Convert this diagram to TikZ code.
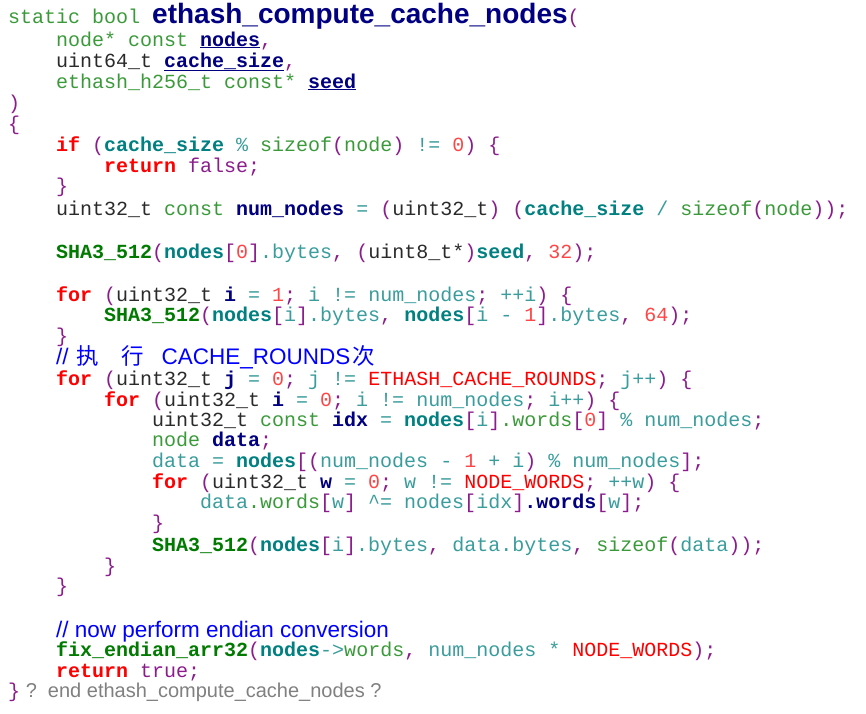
\documentclass[tikz,border=0pt]{standalone}
\usepackage{fontspec}
\setmonofont{Liberation Mono}
\setsansfont{Liberation Sans}
\newfontfamily\cjk{Noto Sans CJK SC}
\definecolor{cgreen}{HTML}{3A9A3A}
\definecolor{cfun}{HTML}{007A00}
\definecolor{cnavy}{HTML}{000080}
\definecolor{cpur}{HTML}{8B1C8B}
\definecolor{cred}{HTML}{FF0000}
\definecolor{cnum}{HTML}{FF4545}
\definecolor{cteal}{HTML}{008080}
\definecolor{clt}{HTML}{3A9C9C}
\definecolor{cdark}{HTML}{2A2A2A}
\definecolor{cblue}{HTML}{0000FF}
\definecolor{cgray}{HTML}{808080}
\newcommand\cG[1]{\textcolor{cgreen}{#1}}
\newcommand\cF[1]{\textcolor{cfun}{\bfseries #1}}
\newcommand\cP[1]{\textcolor{cpur}{#1}}
\newcommand\cR[1]{\textcolor{cred}{\bfseries #1}}
\newcommand\cRn[1]{\textcolor{cred}{#1}}
\newcommand\cN[1]{\textcolor{cnum}{#1}}
\newcommand\cT[1]{\textcolor{cteal}{\bfseries #1}}
\newcommand\cL[1]{\textcolor{clt}{#1}}
\newcommand\cD[1]{\textcolor{cdark}{#1}}
\newcommand\cV[1]{\textcolor{cnavy}{\bfseries #1}}
\newcommand\cU[1]{\textcolor{cnavy}{\bfseries\underline{#1}}}
\begin{document}
\begin{tikzpicture}[x=1pt,y=1pt,
  ln/.style={anchor=base west,inner sep=0pt,font=\ttfamily\fontsize{20}{20}\selectfont},
  cmtext/.style={anchor=base west,inner sep=0pt,font=\sffamily\fontsize{22.5}{22}\selectfont,text=cblue}]
\useasboundingbox (0,0) rectangle (866,-713);
\newcommand\Ln[4]{\node[ln] (#1) at (8+12*#2,-#3) {#4};}
\node[ln] (l1) at (8,-23) {\cG{static bool} \textcolor{cnavy}{\sffamily\bfseries\fontsize{28}{28}\selectfont ethash\_compute\_cache\_nodes}\cP{(}};
\Ln{l2}{4}{46}{\cG{node* const} \cU{nodes}\cP{,}}
\Ln{l3}{4}{67}{\cD{uint64\_t} \cU{cache\_size}\cP{,}}
\Ln{l4}{4}{88}{\cG{ethash\_h256\_t const*} \cU{seed}}
\Ln{l5}{0}{109}{\cP{)}}
\Ln{l6}{0}{130}{\cP{\{}}
\Ln{l7}{4}{151}{\cR{if} \cP{(}\cT{cache\_size} \cL{\%} \cG{sizeof}\cP{(}\cG{node}\cP{)} \cL{!=} \cN{0}\cP{)} \cP{\{}}
\Ln{l8}{8}{172}{\cR{return} \cP{false;}}
\Ln{l9}{4}{192}{\cP{\}}}
\Ln{l10}{4}{215}{\cD{uint32\_t} \cG{const} \cV{num\_nodes} \cL{=} \cP{(}\cD{uint32\_t}\cP{)} \cP{(}\cT{cache\_size} \cL{/} \cG{sizeof}\cP{(}\cG{node}\cP{));}}
\Ln{l11}{4}{258}{\cF{SHA3\_512}\cP{(}\cT{nodes}\cP{[}\cN{0}\cP{]}\cL{.bytes}\cP{,} \cP{(}\cD{uint8\_t*}\cP{)}\cT{seed}\cP{,} \cN{32}\cP{);}}
\Ln{l12}{4}{301}{\cR{for} \cP{(}\cD{uint32\_t} \cV{i} \cL{=} \cN{1}\cP{;} \cL{i} \cL{!=} \cL{num\_nodes}\cP{;} \cL{++i}\cP{)} \cP{\{}}
\Ln{l13}{8}{321}{\cF{SHA3\_512}\cP{(}\cT{nodes}\cP{[}\cL{i}\cP{]}\cL{.bytes}\cP{,} \cT{nodes}\cP{[}\cL{i} \cL{-} \cN{1}\cP{]}\cL{.bytes}\cP{,} \cN{64}\cP{);}}
\Ln{l14}{4}{342}{\cP{\}}}
\node[cmtext] (c1) at (56,-364) {//\hspace{8pt}{\cjk 执}\hspace{22pt}{\cjk 行}\hspace{18pt}CACHE\_ROUNDS\hspace{2pt}{\cjk 次}};
\Ln{l15}{4}{385}{\cR{for} \cP{(}\cD{uint32\_t} \cV{j} \cL{=} \cN{0}\cP{;} \cL{j} \cL{!=} \cRn{ETHASH\_CACHE\_ROUNDS}\cP{;} \cL{j++}\cP{)} \cP{\{}}
\Ln{l16}{8}{406}{\cR{for} \cP{(}\cD{uint32\_t} \cV{i} \cL{=} \cN{0}\cP{;} \cL{i} \cL{!=} \cL{num\_nodes}\cP{;} \cL{i++}\cP{)} \cP{\{}}
\Ln{l17}{12}{426}{\cD{uint32\_t} \cG{const} \cV{idx} \cL{=} \cT{nodes}\cP{[}\cL{i}\cP{]}\cG{.words}\cP{[}\cN{0}\cP{]} \cL{\%} \cL{num\_nodes}\cP{;}}
\Ln{l18}{12}{446}{\cG{node} \cV{data}\cP{;}}
\Ln{l19}{12}{467}{\cL{data} \cL{=} \cT{nodes}\cP{[(}\cL{num\_nodes} \cL{-} \cN{1} \cL{+} \cL{i}\cP{)} \cL{\%} \cL{num\_nodes}\cP{];}}
\Ln{l20}{12}{488}{\cR{for} \cP{(}\cD{uint32\_t} \cV{w} \cL{=} \cN{0}\cP{;} \cL{w} \cL{!=} \cRn{NODE\_WORDS}\cP{;} \cL{++w}\cP{)} \cP{\{}}
\Ln{l21}{16}{508}{\cL{data}\cG{.words}\cP{[}\cL{w}\cP{]} \cL{\textasciicircum=} \cL{nodes}\cP{[}\cL{idx}\cP{]}\cV{.words}\cP{[}\cL{w}\cP{];}}
\Ln{l22}{12}{529}{\cP{\}}}
\Ln{l23}{12}{551}{\cF{SHA3\_512}\cP{(}\cT{nodes}\cP{[}\cL{i}\cP{]}\cL{.bytes}\cP{,} \cL{data.bytes}\cP{,} \cG{sizeof}\cP{(}\cL{data}\cP{));}}
\Ln{l24}{8}{572}{\cP{\}}}
\Ln{l25}{4}{592}{\cP{\}}}
\node[cmtext] (c2) at (56,-637) {// now perform endian conversion};
\Ln{l26}{4}{656}{\cF{fix\_endian\_arr32}\cP{(}\cT{nodes}\cL{->}\cG{words}\cP{,} \cL{num\_nodes} \cL{*} \cRn{NODE\_WORDS}\cP{);}}
\Ln{l27}{4}{677}{\cR{return} \cP{true;}}
\node[ln] (l28) at (8,-697) {\cP{\}}\textcolor{cgray}{\sffamily\fontsize{20}{20}\selectfont\ ?\ \ end ethash\_compute\_cache\_nodes ?}};
\end{tikzpicture}
\end{document}
